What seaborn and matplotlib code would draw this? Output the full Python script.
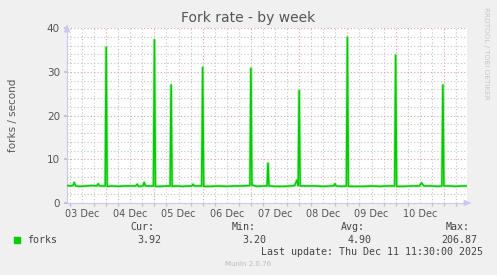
import matplotlib
matplotlib.use("Agg")
import matplotlib.pyplot as plt
import seaborn as sns
import pandas as pd
from matplotlib.ticker import FixedLocator

# ---- data (hours since 03 Dec 00:00) ----
hours = [4.5, 6, 7.5, 8.1, 8.8, 11, 14, 17, 19.3, 20, 20.7, 23.5, 24, 24.5,
         27, 30, 33, 36, 38.7, 39.4, 40.1, 42.3, 42.9, 43.5, 46, 47.5, 48, 48.5,
         51, 54, 55.8, 56.3, 56.8, 59, 62, 65, 66.6, 67.2, 67.8, 71.5, 72, 72.5,
         76, 80, 84, 88, 92, 95.5, 96, 96.5, 99, 102, 104, 104.5, 105, 108,
         112, 116, 117.8, 118.8, 119.5, 120, 120.5, 124, 128, 132, 136, 137.2,
         137.8, 138.4, 141, 143.5, 144, 144.5, 148, 152, 156, 160, 164, 167.5,
         168, 168.5, 172, 176, 179.8, 180.9, 182, 186, 189, 191, 191.5, 192,
         195, 198, 201, 203.5]
forks = [4.0, 3.9, 4.0, 4.7, 3.9, 3.8, 3.9, 4.0, 3.9, 4.4, 3.9, 3.9, 35.6, 3.8,
         3.9, 3.8, 3.9, 3.9, 3.9, 4.3, 3.8, 3.9, 4.7, 3.9, 3.9, 3.9, 37.3, 3.8,
         3.8, 3.9, 3.9, 27.0, 3.8, 3.9, 3.8, 3.9, 3.9, 4.3, 3.9, 3.9, 31.0, 3.8,
         3.8, 3.9, 3.8, 3.9, 3.9, 4.0, 30.8, 4.1, 3.8, 3.9, 3.9, 9.1, 3.9, 3.8,
         3.8, 3.9, 4.0, 5.2, 4.0, 25.7, 3.9, 3.9, 3.9, 3.8, 3.9, 3.9,
         4.4, 3.9, 3.8, 3.9, 37.9, 3.8, 3.8, 3.8, 3.9, 3.8, 3.9, 3.9,
         33.8, 3.8, 3.8, 3.9, 3.9, 4.6, 3.9, 3.9, 3.8, 3.9, 27.0, 3.9,
         3.9, 3.8, 3.9, 3.9]

day_ticks = [24, 48, 72, 96, 120, 144, 168, 192]
label_pos = [12, 36, 60, 84, 108, 132, 156, 180]
day_labels = ["03 Dec", "04 Dec", "05 Dec", "06 Dec", "07 Dec", "08 Dec", "09 Dec", "10 Dec"]

stat_names = ["Cur:", "Min:", "Avg:", "Max:"]
stat_values = ["3.92", "3.20", "4.90", "206.87"]

df = pd.DataFrame({"hour": hours, "forks": forks})

sns.set_theme(style="white")
plt.rcParams["font.family"] = ["DejaVu Sans"]

W, H = 497, 275
fig = plt.figure(figsize=(W / 100, H / 100), dpi=100, facecolor="#F0F0F0")
ax = fig.add_axes([67 / W, (H - 203) / H, 400 / W, 175 / H])
ax.set_facecolor("white")

# grid
minor_col = "#c4c4c4"
major_col = "#e4a0a0"
ax.set_xlim(4.5, 203.5)
ax.set_ylim(0, 40)
for x in range(6, 204, 6):
    if x % 24 != 0:
        ax.axvline(x, color=minor_col, lw=0.8, ls=(0, (1, 2)), zorder=0)
for y in range(2, 40, 2):
    if y % 10 != 0:
        ax.axhline(y, color=minor_col, lw=0.8, ls=(0, (1, 2)), zorder=0)
for x in day_ticks:
    ax.axvline(x, color=major_col, lw=0.8, ls=(0, (1, 2)), zorder=0.5)
for y in [10, 20, 30, 40]:
    ax.axhline(y, color=major_col, lw=0.8, ls=(0, (1, 2)), zorder=0.5)

sns.lineplot(data=df, x="hour", y="forks", ax=ax, color="#90e890", lw=2.2,
             zorder=2, alpha=0.6)
sns.lineplot(data=df, x="hour", y="forks", ax=ax, color="#00cc00", lw=1.1, zorder=3)

for s in ["top", "right"]:
    ax.spines[s].set_visible(False)
for s in ["left", "bottom"]:
    ax.spines[s].set_color("#c8c8f0")
    ax.spines[s].set_linewidth(0.8)

# arrows
ax.annotate("", xy=(0, 1.035), xytext=(0, 0.99), xycoords="axes fraction",
            arrowprops=dict(arrowstyle="-|>,head_width=0.15,head_length=0.35",
                            color="#c8c8f0", lw=0.8), annotation_clip=False)
ax.annotate("", xy=(1.018, 0), xytext=(0.99, 0), xycoords="axes fraction",
            arrowprops=dict(arrowstyle="-|>,head_width=0.15,head_length=0.35",
                            color="#c8c8f0", lw=0.8), annotation_clip=False)

ax.set_xticks(label_pos)
ax.set_xticklabels(day_labels)
ax.tick_params(axis="x", length=0, pad=4, labelsize=7, labelcolor="#555555")
ax.xaxis.set_minor_locator(FixedLocator([x for x in range(6, 204, 6)]))
ax.tick_params(axis="x", which="minor", length=2, color="#c0c0c0", bottom=True)
ax.set_yticks([0, 10, 20, 30, 40])
ax.tick_params(axis="y", length=2, color="#c0c0c0", pad=3, labelsize=7.5,
               labelcolor="#555555", left=True)
ax.set_xlabel("")
ax.set_ylabel("forks / second", fontsize=7.5, color="#555555", labelpad=21)

fig.text(248 / W, 1 - 18 / H, "Fork rate - by week", ha="center", va="center",
         fontsize=10, color="#555555")
fig.text(486 / W, 1 - 53 / H, "RRDTOOL / TOBI OETIKER", rotation=270, ha="center",
         va="center", fontsize=5.2, color="#c8c8c8")

mono = "DejaVu Sans Mono"
fs = 7.2
tc = "#444444"
fig.patches.append(plt.Rectangle((14 / W, 1 - 243 / H), 6 / W, 6 / H,
                                 transform=fig.transFigure, color="#00cc00"))
fig.text(27 / W, 1 - 240 / H, "forks", family=mono, fontsize=fs, color=tc, va="center")
name_right = [154, 256, 365, 470]
val_right = [161, 266, 372, 477]
for n, v, nr, vr in zip(stat_names, stat_values, name_right, val_right):
    fig.text(nr / W, 1 - 227 / H, n, family=mono, fontsize=fs, color=tc,
             ha="right", va="center")
    fig.text(vr / W, 1 - 240 / H, v, family=mono, fontsize=fs, color=tc,
             ha="right", va="center")
fig.text(483 / W, 1 - 252 / H, "Last update: Thu Dec 11 11:30:00 2025", family=mono,
         fontsize=fs, color=tc, ha="right", va="center")
fig.text(248 / W, 1 - 264 / H, "Munin 2.0.76", fontsize=5, color="#bbbbbb",
         ha="center", va="center")

fig.savefig("out.png", dpi=100, facecolor=fig.get_facecolor())
